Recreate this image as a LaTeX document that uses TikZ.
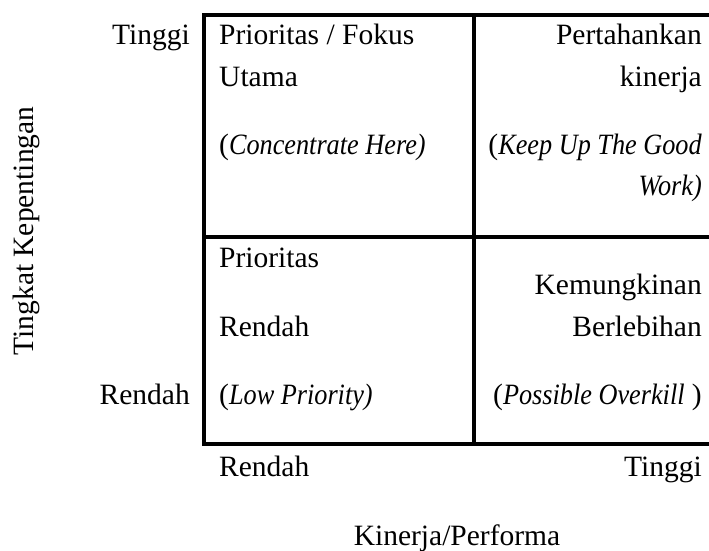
\documentclass[tikz,border=0pt]{standalone}
\usepackage{fontspec}
\setmainfont{Liberation Serif}[ItalicFeatures={FakeStretch=0.89}]
\begin{document}
\begin{tikzpicture}[x=1pt,y=-1pt,
  grid/.style={line width=4pt,line cap=rect},
  lbl/.style={inner sep=0pt,font=\fontsize{29.5}{34}\selectfont},
  lft/.style={lbl,anchor=base west},
  rgt/.style={lbl,anchor=base east}]
\useasboundingbox (0,0) rectangle (709,550);
\clip (0,0) rectangle (709,550);
% grid corners
\coordinate (tl) at (204,15);
\coordinate (tm) at (474,15);
\coordinate (tr) at (712,15);
\coordinate (ml) at (204,237);
\coordinate (mr) at (712,237);
\coordinate (bl) at (204,444);
\coordinate (bm) at (474,444);
\coordinate (br) at (712,444);
\draw[grid] (tr) -- (tl) -- (bl) -- (br);
\draw[grid] (ml) -- (mr);
\draw[grid] (tm) -- (bm);
% top-left cell
\node[lft] (q1a) at (219,44) {Prioritas / Fokus};
\node[lft] (q1b) at (219,86) {Utama};
\node[lft] (q1c) at (219,154) {(\textit{Concentrate Here)}};
% top-right cell
\node[rgt] (q2a) at (702,44) {Pertahankan};
\node[rgt] (q2b) at (702,86) {kinerja};
\node[rgt] (q2c) at (702,154) {(\textit{Keep Up The Good}};
\node[rgt] (q2d) at (702,195) {\textit{Work)}};
% bottom-left cell
\node[lft] (q3a) at (219,267) {Prioritas};
\node[lft] (q3b) at (219,336) {Rendah};
\node[lft] (q3c) at (219,404) {(\textit{Low Priority)}};
% bottom-right cell
\node[rgt] (q4a) at (702,294) {Kemungkinan};
\node[rgt] (q4b) at (702,336) {Berlebihan};
\node[rgt] (q4c) at (702,404) {(\textit{Possible Overkill} )};
% axis labels
\node[rgt] (yhi) at (190,44) {Tinggi};
\node[rgt] (ylo) at (190,404) {Rendah};
\node[lft] (xlo) at (219,476) {Rendah};
\node[rgt] (xhi) at (702,476) {Tinggi};
\node[lbl,anchor=base] (xt) at (457,545) {Kinerja/Performa};
\node[lbl,anchor=base,rotate=90] (yt) at (33,231) {Tingkat Kepentingan};
\end{tikzpicture}
\end{document}
